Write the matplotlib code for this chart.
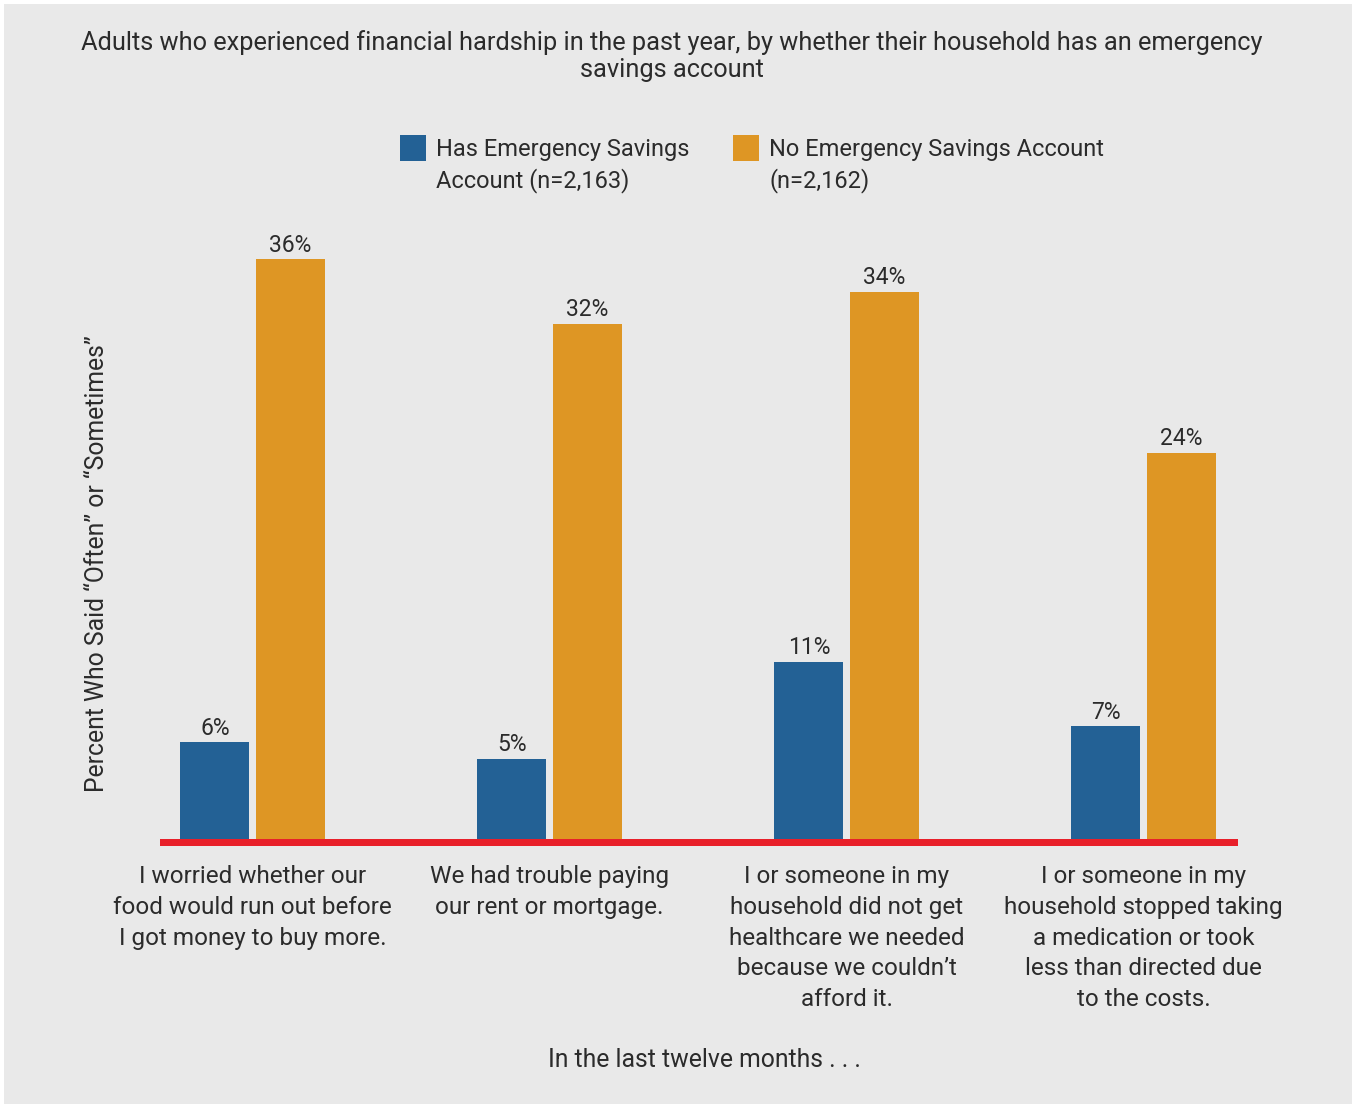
import numpy as np
import matplotlib.pyplot as plt
from matplotlib.patches import Rectangle

# chart data
categories = [
    "I worried whether our\nfood would run out before\nI got money to buy more.",
    "We had trouble paying\nour rent or mortgage.",
    "I or someone in my\nhousehold did not get\nhealthcare we needed\nbecause we couldn\u2019t\nafford it.",
    "I or someone in my\nhousehold stopped taking\na medication or took\nless than directed due\nto the costs.",
]
has_savings = [6, 5, 11, 7]
no_savings = [36, 32, 34, 24]
series_names = ["Has Emergency Savings\nAccount (n=2,163)", "No Emergency Savings Account\n(n=2,162)"]

BLUE = "#236195"
ORANGE = "#de9624"
RED = "#e8202a"
BG = "#e9e9e9"
TXT = "#2b2b2b"

plt.rcParams['font.family'] = ['Roboto', 'DejaVu Sans']

W, H = 1352, 1105
fig = plt.figure(figsize=(W / 100, H / 100), dpi=100, facecolor="white")
fig.patches.append(Rectangle((4 / W, 1 / H), 1, 1 - 5 / H, transform=fig.transFigure,
                             facecolor=BG, edgecolor="none", zorder=-10))

# axes placement in pixels
px_per = 16.1
base_px, bottom_px, top_px = 839, 846, 200
left_px, right_px = 160, 1238
ax = fig.add_axes([left_px / W, 1 - bottom_px / H, (right_px - left_px) / W, (bottom_px - top_px) / H])
ax.set_facecolor("none")

x = np.arange(len(categories))
bw = 0.232
off = 0.128
b1 = ax.bar(x - off + 0.005, has_savings, bw, color=BLUE)
b2 = ax.bar(x + off + 0.003, no_savings, bw, color=ORANGE)
ax.bar_label(b1, labels=[f"{v}%" for v in has_savings], padding=2, fontsize=16.5, color=TXT)
ax.bar_label(b2, labels=[f"{v}%" for v in no_savings], padding=2, fontsize=16.5, color=TXT)

ax.set_ylim(-(bottom_px - base_px) / px_per, (base_px - top_px) / px_per)
ax.set_xlim(-0.308, 3.322)
ax.axhspan(ax.get_ylim()[0], 0, color=RED, lw=0)

for s in ax.spines.values():
    s.set_visible(False)
ax.set_yticks([])
ax.set_xticks(x + 0.004)
ax.set_xticklabels(categories, fontsize=17.5, color=TXT, linespacing=1.42)
ax.tick_params(axis="x", length=0, pad=14)

# titles and axis labels
fig.text(672 / W, 1 - 56 / H,
         "Adults who experienced financial hardship in the past year, by whether their household has an emergency\nsavings account",
         ha="center", va="center", fontsize=18.3, color=TXT, linespacing=1.2)
fig.text(97 / W, 1 - 564 / H, "Percent Who Said \u201cOften\u201d or \u201cSometimes\u201d",
         rotation=90, ha="center", va="center", fontsize=17.8, color=TXT)
fig.text(704 / W, 1 - 1060 / H, "In the last twelve months . . .",
         ha="center", va="center", fontsize=17.8, color=TXT)

# legend
for sq_x, txt_x, col, name in [(400, 436, BLUE, series_names[0]), (733, 769, ORANGE, series_names[1])]:
    fig.patches.append(Rectangle((sq_x / W, 1 - 161 / H), 26 / W, 26 / H, transform=fig.transFigure,
                                 facecolor=col, edgecolor="none"))
    fig.text(txt_x / W, 1 - 138 / H, name, ha="left", va="top", fontsize=17, color=TXT, linespacing=1.36)

fig.savefig("out.png", dpi=100, facecolor=fig.get_facecolor())
